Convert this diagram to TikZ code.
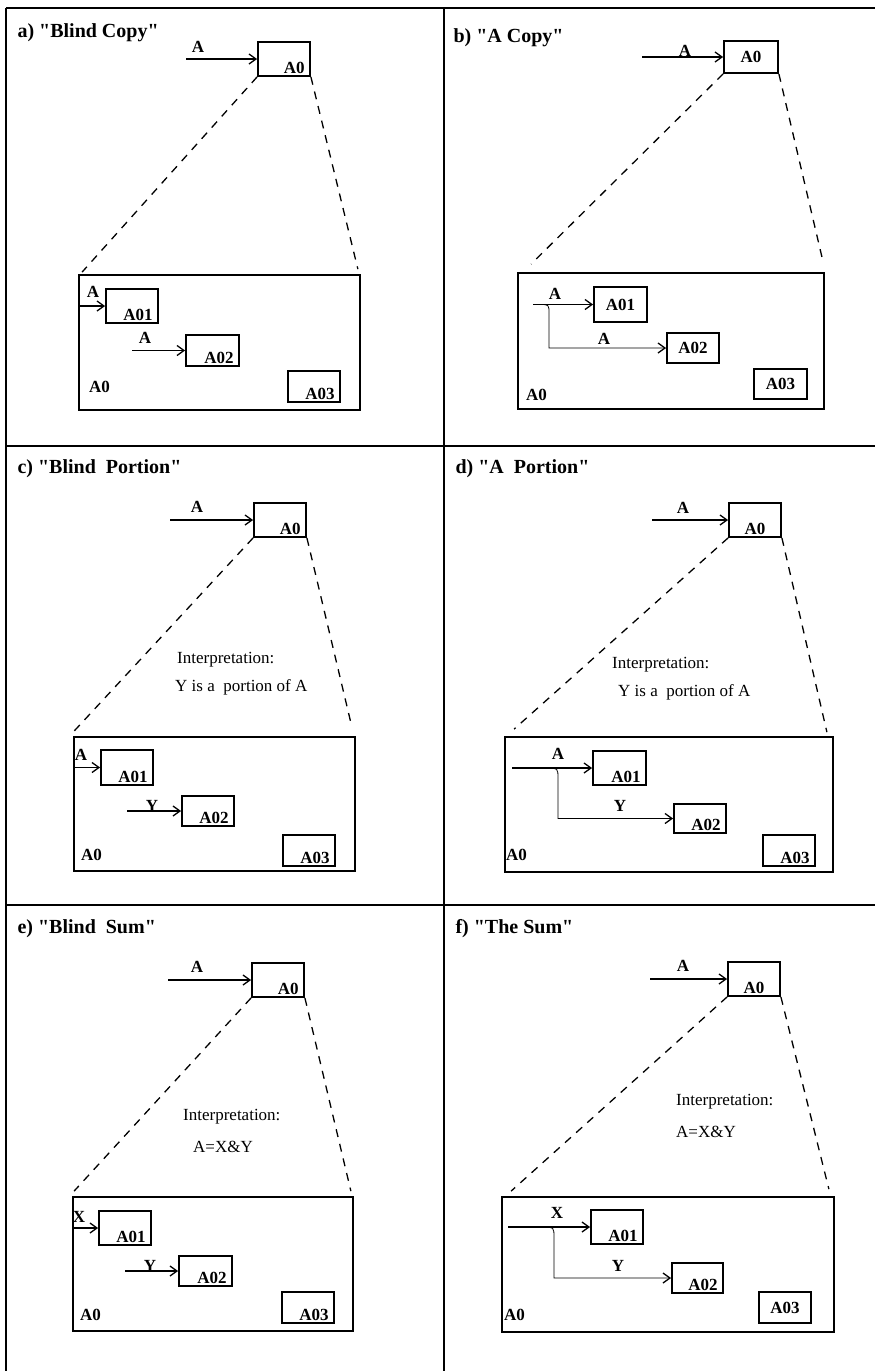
\documentclass[tikz,border=0pt]{standalone}
\usepackage{fontspec}
\setmainfont{Liberation Serif}
\usetikzlibrary{arrows.meta}

\tikzset{
  box/.style={draw, line width=1.8pt, minimum width=52pt, minimum height=33pt, inner sep=0pt, font=\bfseries\fontsize{17}{19}\selectfont},
  boxse/.style={box, label={[lbl, anchor=south east, xshift=-5pt, yshift=2pt]south east:#1}},
  boxs/.style={box, label={[lbl, anchor=south, yshift=2pt]south:#1}},
  zoombox/.style={draw, line width=1.8pt, inner sep=0pt},
  lbl/.style={font=\bfseries\fontsize{17}{19}\selectfont, inner sep=1pt},
  flow/.style={line width=1.1pt, -{Straight Barb[length=7pt,width=10pt,line width=1.3pt]}},
  branch/.style={line width=0.8pt, -{Straight Barb[length=7pt,width=10pt,line width=1.3pt]}},
  expand/.style={line width=1.3pt, dash pattern=on 8pt off 7pt},
  heading/.style={anchor=west, font=\bfseries\fontsize{20}{23}\selectfont},
  note/.style={anchor=west, font=\fontsize{17}{19}\selectfont, inner sep=0pt},
}

\begin{document}
\begin{tikzpicture}[x=1pt,y=-1pt]
\useasboundingbox (0,0) rectangle (875,1371);

% Frame
\draw[line width=1.4pt] (6,8) -- (875,8);
\draw[line width=1.4pt] (6,8) -- (6,1371);
\draw[line width=1.4pt] (444,8) -- (444,1371);
\draw[line width=1.4pt] (6,446) -- (875,446);
\draw[line width=1.4pt] (6,905) -- (875,905);

% a) Blind Copy
\node[heading] (ta) at (14,33) {a) \textquotedbl Blind Copy\textquotedbl};
\node[boxse=A0, minimum height=34pt] (aA0) at (284,59) {};
\coordinate (aIn) at (186,59);
\draw[flow] (aIn) -- (aA0.west);
\node[lbl] (aLA) at (198,47) {A};
\node[zoombox, minimum width=281pt, minimum height=135pt] (aZ) at (219.5,342.5) {};
\draw[expand] (aA0.south west) -- ([shift={(4,-2)}]aZ.north west);
\draw[expand] (aA0.south east) -- ([shift={(-3,-5)}]aZ.north east);
\node[boxse=A01, minimum height=34pt] (aA01) at (132,306) {};
\draw[flow] (aZ.west |- aA01.west) -- (aA01.west);
\node[lbl] (aLA1) at (93,292) {A};
\node[boxse=A02, minimum width=53pt, minimum height=31pt] (aA02) at (212.5,350.5) {};
\coordinate (aIn2) at (132,350.5);
\draw[flow] (aIn2) -- (aA02.west);
\node[lbl] (aLA2) at (145,338) {A};
\node[boxse=A03, minimum height=31pt] (aA03) at (314,386.5) {};
\node[lbl, anchor=west] (aL0) at (88,387) {A0};

% b) A Copy
\node[heading] (tb) at (450,38) {b) \textquotedbl A Copy\textquotedbl};
\node[box, minimum width=54pt, minimum height=32pt] (bA0) at (751,57) {A0};
\coordinate (bIn) at (642,57);
\draw[flow] (bIn) -- (bA0.west);
\node[lbl] (bLA) at (685,51) {A};
\node[zoombox, minimum width=306pt, minimum height=136pt] (bZ) at (671,341) {};
\draw[expand] (bA0.south west) -- ([shift={(14,-8)}]bZ.north west);
\draw[expand] (bA0.south east) -- ([shift={(-2,-11)}]bZ.north east);
\node[box, minimum width=53pt, minimum height=35pt] (bA01) at (620.5,304.5) {A01};
\coordinate (bIn1) at (533,304.5);
\draw[flow] (bIn1) -- (bA01.west);
\node[lbl] (bLA1) at (555,294) {A};
\coordinate (bFork) at (540,304.5);
\node[box, minimum height=30pt] (bA02) at (693,348) {A02};
\draw[branch] (bFork) .. controls (549,304.5) .. (549,314) |- (bA02.west);
\node[lbl] (bLA2) at (604,339) {A};
\node[box, minimum width=53pt, minimum height=30pt] (bA03) at (780.5,384) {A03};
\node[lbl, anchor=west] (bL0) at (525,395) {A0};

% c) Blind Portion
\node[heading] (tc) at (14,469) {c) \textquotedbl Blind\ \ Portion\textquotedbl};
\node[boxse=A0, minimum height=34pt] (cA0) at (280,520) {};
\coordinate (cIn) at (170,520);
\draw[flow] (cIn) -- (cA0.west);
\node[lbl] (cLA) at (197,507) {A};
\node[zoombox, minimum width=281pt, minimum height=134pt] (cZ) at (214.5,804) {};
\draw[expand] (cA0.south west) -- ([shift={(1,-5)}]cZ.north west);
\draw[expand] (cA0.south east) -- ([shift={(-4,-9)}]cZ.north east);
\node[note] (cN1) at (177,660) {Interpretation:};
\node[note] (cN2) at (175,687) {Y is a\ \ portion of A};
\node[boxse=A01, minimum height=35pt] (cA01) at (127,767.5) {};
\draw[flow] (cZ.west |- cA01.west) -- (cA01.west);
\node[lbl] (cLA1) at (81,755) {A};
\node[boxse=A02, minimum height=30pt] (cA02) at (208,811) {};
\coordinate (cIn2) at (127,811);
\draw[flow] (cIn2) -- (cA02.west);
\node[lbl] (cLY) at (152,806) {Y};
\node[boxse=A03, minimum height=31pt] (cA03) at (309,850.5) {};
\node[lbl, anchor=west] (cL0) at (80,855) {A0};

% d) A Portion
\node[heading] (td) at (452,469) {d) \textquotedbl A\ \ Portion\textquotedbl};
\node[boxs=A0, minimum height=34pt] (dA0) at (755,520) {};
\coordinate (dIn) at (652,520);
\draw[flow] (dIn) -- (dA0.west);
\node[lbl] (dLA) at (683,508) {A};
\node[zoombox, minimum width=328pt, minimum height=135pt] (dZ) at (669,804.5) {};
\draw[expand] (dA0.south west) -- ([shift={(10,-7)}]dZ.north west);
\draw[expand] (dA0.south east) -- ([shift={(-7,-4)}]dZ.north east);
\node[note] (dN1) at (612,665) {Interpretation:};
\node[note] (dN2) at (618,692) {Y is a\ \ portion of A};
\node[boxse=A01, minimum width=53pt, minimum height=34pt] (dA01) at (619.5,768) {};
\coordinate (dIn1) at (512,768);
\draw[flow] (dIn1) -- (dA01.west);
\node[lbl] (dLA1) at (558,754) {A};
\coordinate (dFork) at (547,768);
\node[boxse=A02, minimum height=29pt] (dA02) at (700,818.5) {};
\draw[branch] (dFork) .. controls (558,768) .. (558,779) |- (dA02.west);
\node[lbl] (dLY) at (620,806) {Y};
\node[boxse=A03, minimum height=31pt] (dA03) at (789,850.5) {};
\node[lbl, anchor=west] (dL0) at (505,855) {A0};

% e) Blind Sum
\node[heading] (te) at (14,929) {e) \textquotedbl Blind\ \ Sum\textquotedbl};
\node[boxse=A0, minimum height=34pt] (eA0) at (278,980) {};
\coordinate (eIn) at (168,980);
\draw[flow] (eIn) -- (eA0.west);
\node[lbl] (eLA) at (197,967) {A};
\node[zoombox, minimum width=280pt, minimum height=134pt] (eZ) at (213,1264) {};
\draw[expand] (eA0.south west) -- ([shift={(2,-5)}]eZ.north west);
\draw[expand] (eA0.south east) -- ([shift={(-3,-5)}]eZ.north east);
\node[note] (eN1) at (183,1117) {Interpretation:};
\node[note] (eN2) at (193,1147) {A=X\&Y};
\node[boxse=A01, minimum height=34pt] (eA01) at (125,1228) {};
\draw[flow] (eZ.west |- eA01.west) -- (eA01.west);
\node[lbl] (eLX) at (79,1217) {X};
\node[boxse=A02, minimum width=53pt, minimum height=30pt] (eA02) at (205.5,1271) {};
\coordinate (eIn2) at (125,1271);
\draw[flow] (eIn2) -- (eA02.west);
\node[lbl] (eLY) at (150,1266) {Y};
\node[boxse=A03, minimum height=31pt] (eA03) at (308,1307.5) {};
\node[lbl, anchor=west] (eL0) at (79,1315) {A0};

% f) The Sum
\node[heading] (tf) at (452,929) {f) \textquotedbl The Sum\textquotedbl};
\node[boxs=A0, minimum height=34pt] (fA0) at (754,979) {};
\coordinate (fIn) at (650,979);
\draw[flow] (fIn) -- (fA0.west);
\node[lbl] (fLA) at (683,966) {A};
\node[zoombox, minimum width=332pt, minimum height=135pt] (fZ) at (668,1264.5) {};
\draw[expand] (fA0.south west) -- ([shift={(10,-5)}]fZ.north west);
\draw[expand] (fA0.south east) -- ([shift={(-6,-7)}]fZ.north east);
\node[note] (fN1) at (676,1102) {Interpretation:};
\node[note] (fN2) at (676,1132) {A=X\&Y};
\node[boxse=A01, minimum height=34pt] (fA01) at (617,1227) {};
\coordinate (fIn1) at (508,1227);
\draw[flow] (fIn1) -- (fA01.west);
\node[lbl] (fLX) at (557,1213) {X};
\coordinate (fFork) at (543,1227);
\node[boxse=A02, minimum width=51pt, minimum height=30pt] (fA02) at (697.5,1278) {};
\draw[branch] (fFork) .. controls (554,1227) .. (554,1238) |- (fA02.west);
\node[lbl] (fLY) at (618,1266) {Y};
\node[box, minimum height=31pt] (fA03) at (785,1307.5) {A03};
\node[lbl, anchor=west] (fL0) at (503,1315) {A0};

\end{tikzpicture}
\end{document}
